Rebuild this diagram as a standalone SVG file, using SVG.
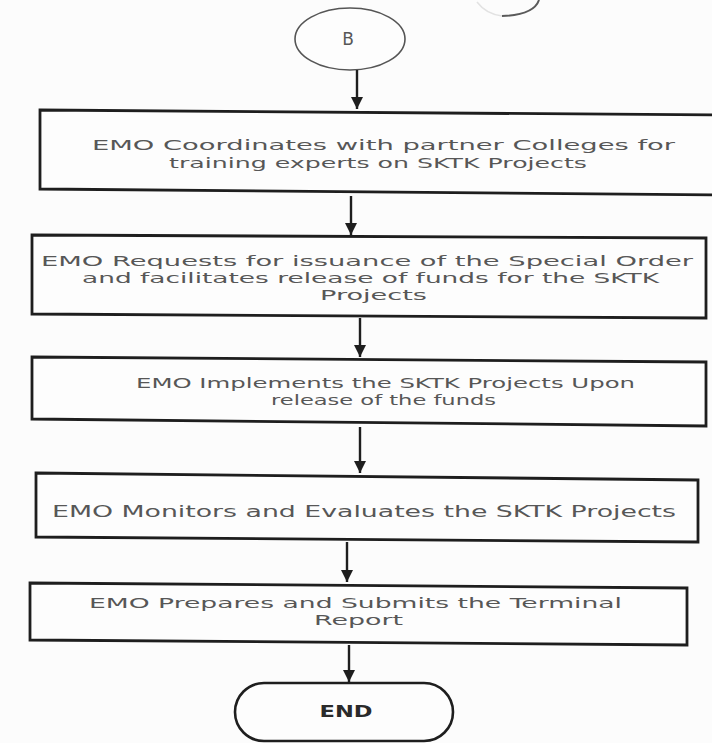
<svg xmlns="http://www.w3.org/2000/svg" width="712" height="743" viewBox="0 0 712 743">
  <style>
    .box { fill: #fdfdfd; stroke: #1e1e1e; stroke-width: 2.8; stroke-linejoin: miter; }
    .term { fill: #fdfdfd; stroke: #1e1e1e; stroke-width: 2.6; }
    .lbl { font-family: "DejaVu Sans", "Liberation Sans", sans-serif; font-size: 14.5px; fill: #575757; }
    .end { font-family: "DejaVu Sans", "Liberation Sans", sans-serif; font-size: 15px; font-weight: bold; fill: #2a2a2a; }
    .conn { stroke: #1e1e1e; stroke-width: 2.4; fill: none; }
  </style>
  <defs>
    <marker id="arrow" markerUnits="userSpaceOnUse" markerWidth="14" markerHeight="12" refX="12" refY="6" orient="auto">
      <path d="M0,0 L12,6 L0,12 Z" fill="#1e1e1e"/>
    </marker>
  </defs>

  <rect width="712" height="743" fill="#fcfcfc"/>

  <!-- stray arc at the top edge -->
  <path d="M539,0 Q534,15 502,16" fill="none" stroke="#5a5a5a" stroke-width="2"/>
  <path d="M502,16 Q486,14 477,2" fill="none" stroke="#e2e2e2" stroke-width="1.5"/>

  <!-- connector B -->
  <g id="connector-b">
    <ellipse cx="350" cy="39" rx="55" ry="31" fill="#fdfdfd" stroke="#555" stroke-width="1.6"/>
    <text class="lbl" x="348" y="45" text-anchor="middle" style="font-size:17px">B</text>
  </g>

  <g id="step-coordinate">
    <polygon class="box" points="40,110 716,115 716,195 40,189"/>
    <text class="lbl" x="92" y="150" textLength="583" lengthAdjust="spacingAndGlyphs">EMO Coordinates with partner Colleges for</text>
    <text class="lbl" x="169" y="168" textLength="418" lengthAdjust="spacingAndGlyphs">training experts on SKTK Projects</text>
  </g>

  <g id="step-request">
    <polygon class="box" points="32,235 706,238 706,318 32,314"/>
    <text class="lbl" x="41" y="266" textLength="652" lengthAdjust="spacingAndGlyphs">EMO Requests for issuance of the Special Order</text>
    <text class="lbl" x="82" y="283" textLength="577" lengthAdjust="spacingAndGlyphs">and facilitates release of funds for the SKTK</text>
    <text class="lbl" x="320" y="300" textLength="107" lengthAdjust="spacingAndGlyphs">Projects</text>
  </g>

  <g id="step-implement">
    <polygon class="box" points="32,357 706,362 706,426 32,419"/>
    <text class="lbl" x="136" y="388" textLength="499" lengthAdjust="spacingAndGlyphs">EMO Implements the SKTK Projects Upon</text>
    <text class="lbl" x="271" y="405" textLength="225" lengthAdjust="spacingAndGlyphs">release of the funds</text>
  </g>

  <g id="step-monitor">
    <polygon class="box" points="36,473 698,480 698,542 36,537"/>
    <text class="lbl" x="52" y="517" textLength="624" lengthAdjust="spacingAndGlyphs" style="font-size:16px">EMO Monitors and Evaluates the SKTK Projects</text>
  </g>

  <g id="step-report">
    <polygon class="box" points="30,583 687,588 687,645 30,640"/>
    <text class="lbl" x="89" y="608" textLength="533" lengthAdjust="spacingAndGlyphs">EMO Prepares and Submits the Terminal</text>
    <text class="lbl" x="314" y="625" textLength="89" lengthAdjust="spacingAndGlyphs">Report</text>
  </g>

  <g id="end">
    <rect class="term" x="235" y="683" width="218" height="58" rx="29" ry="29"/>
    <text class="end" x="346" y="717" text-anchor="middle" textLength="53" lengthAdjust="spacingAndGlyphs">END</text>
  </g>

  <g id="connectors">
    <line class="conn" x1="357" y1="70" x2="357" y2="109" marker-end="url(#arrow)"/>
    <line class="conn" x1="351" y1="196" x2="351" y2="235" marker-end="url(#arrow)"/>
    <line class="conn" x1="360" y1="318" x2="360" y2="357" marker-end="url(#arrow)"/>
    <line class="conn" x1="360" y1="427" x2="360" y2="473" marker-end="url(#arrow)"/>
    <line class="conn" x1="347" y1="542" x2="347" y2="582" marker-end="url(#arrow)"/>
    <line class="conn" x1="349" y1="645" x2="349" y2="682" marker-end="url(#arrow)"/>
  </g>
</svg>
